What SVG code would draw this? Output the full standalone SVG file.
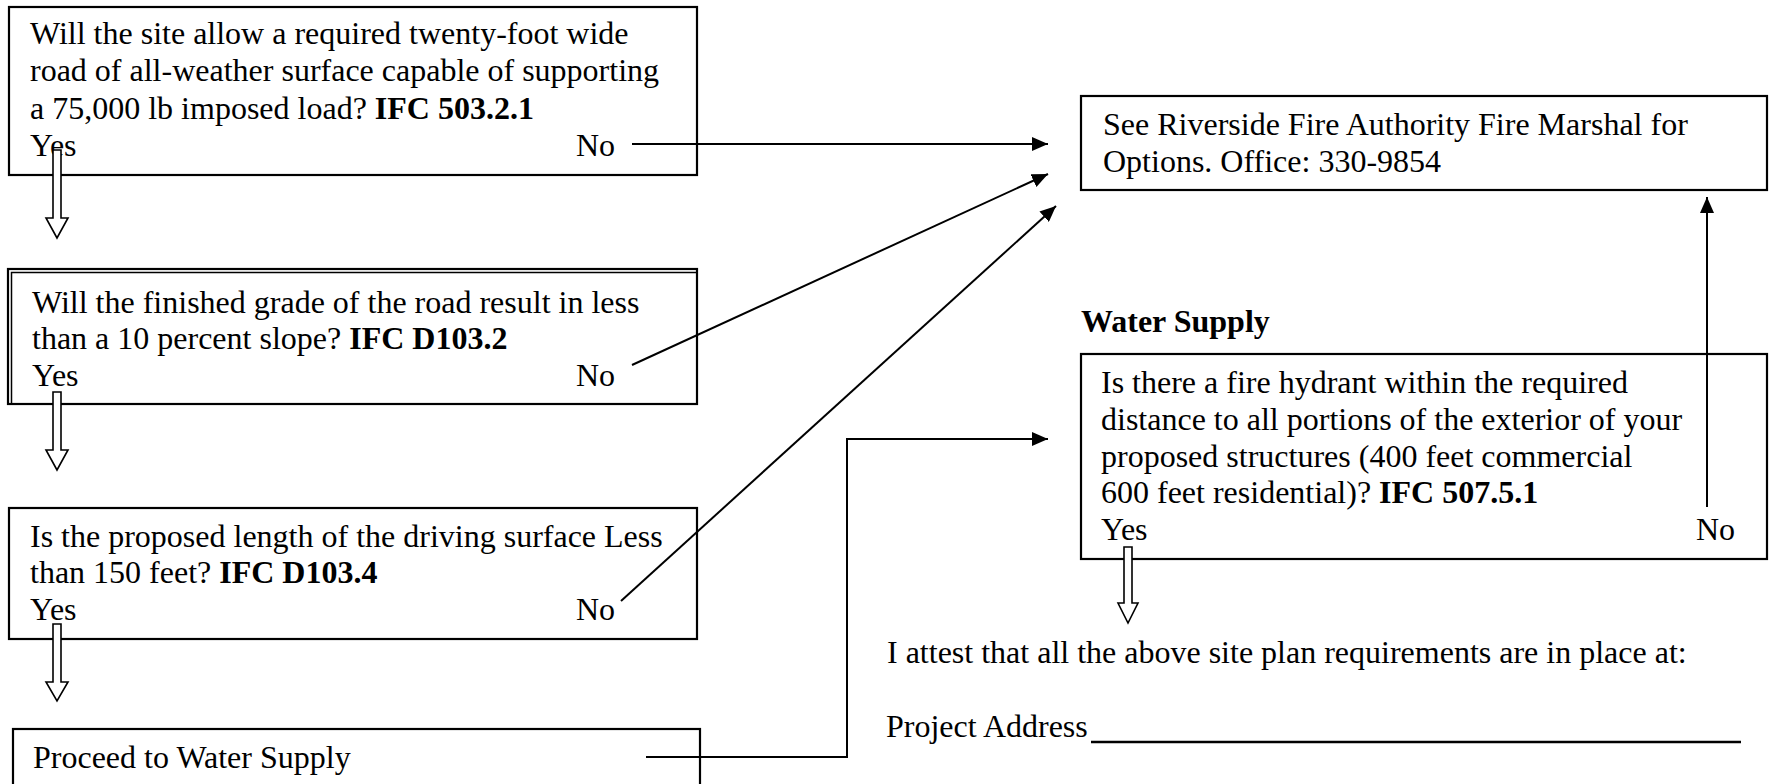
<svg xmlns="http://www.w3.org/2000/svg" width="1769" height="784" viewBox="0 0 1769 784">
<style>
text{font-family:"Liberation Serif","Times New Roman",serif;font-size:32px;fill:#000}
.b{font-weight:bold}
.box{fill:#fff;stroke:#000;stroke-width:2.2}
.con{fill:none;stroke:#000;stroke-width:2}
.hol{fill:#fff;stroke:#000;stroke-width:1.6}
</style>
<defs>
<marker id="ah" markerWidth="16" markerHeight="14" refX="16" refY="7" orient="auto" markerUnits="userSpaceOnUse"><path d="M0,0 L16,7 L0,14 z" fill="#000"/></marker>
</defs>
<rect width="1769" height="784" fill="#fff"/>
<g id="q1">
<rect class="box" x="9" y="7" width="688" height="168"/>
<text x="30" y="43.5">Will the site allow a required twenty-foot wide</text>
<text x="30" y="81">road of all-weather surface capable of supporting</text>
<text x="30" y="118.5">a 75,000 lb imposed load? <tspan class="b">IFC 503.2.1</tspan></text>
<text x="30" y="156">Yes</text>
<text x="576" y="156">No</text>
</g>
<g id="q2">
<rect class="box" x="8" y="269" width="689" height="135"/>
<path d="M11.5,404 V272.5 H697" fill="none" stroke="#000" stroke-width="1.5"/>
<text x="32" y="312.5">Will the finished grade of the road result in less</text>
<text x="32" y="349">than a 10 percent slope? <tspan class="b">IFC D103.2</tspan></text>
<text x="32" y="385.5">Yes</text>
<text x="576" y="385.5">No</text>
</g>
<g id="q3">
<rect class="box" x="9" y="508" width="688" height="131"/>
<text x="30" y="546.5">Is the proposed length of the driving surface Less</text>
<text x="30" y="583">than 150 feet? <tspan class="b">IFC D103.4</tspan></text>
<text x="30" y="620">Yes</text>
<text x="576" y="620">No</text>
</g>
<g id="proceed">
<rect class="box" x="13" y="729" width="687" height="80"/>
<text x="33" y="768">Proceed to Water Supply</text>
</g>
<g id="marshal">
<rect class="box" x="1081" y="96" width="686" height="94"/>
<text x="1103" y="135">See Riverside Fire Authority Fire Marshal for</text>
<text x="1103" y="172">Options. Office: 330-9854</text>
</g>
<g id="water">
<text class="b" x="1081" y="332">Water Supply</text>
<rect class="box" x="1081" y="354" width="686" height="205"/>
<text x="1101" y="393">Is there a fire hydrant within the required</text>
<text x="1101" y="430">distance to all portions of the exterior of your</text>
<text x="1101" y="467">proposed structures (400 feet commercial</text>
<text x="1101" y="503">600 feet residential)? <tspan class="b">IFC 507.5.1</tspan></text>
<text x="1101" y="540">Yes</text>
<text x="1696" y="540">No</text>
</g>
<g id="attest">
<text x="887" y="663">I attest that all the above site plan requirements are in place at:</text>
<text x="886" y="737">Project Address</text>
<line x1="1091" y1="742" x2="1741" y2="742" stroke="#000" stroke-width="2.5"/>
</g>
<g id="connectors">
<line class="con" x1="632" y1="144" x2="1048" y2="144" marker-end="url(#ah)"/>
<line class="con" x1="632" y1="365" x2="1048" y2="174" marker-end="url(#ah)"/>
<line class="con" x1="621" y1="601" x2="1056" y2="206" marker-end="url(#ah)"/>
<polyline class="con" points="646,757 847,757 847,439 1048,439" marker-end="url(#ah)"/>
<line class="con" x1="1707" y1="507" x2="1707" y2="197" marker-end="url(#ah)"/>
<path class="hol" d="M53,150 V218 H46 L57,238 L68,218 H61 V150 Z"/>
<path class="hol" d="M53,392 V450 H46 L57,470 L68,450 H61 V392 Z"/>
<path class="hol" d="M53,624 V682 H46 L57,701 L68,682 H61 V624 Z"/>
<path class="hol" d="M1124,547 V603 H1118 L1128,623 L1138,603 H1132 V547 Z"/>
</g>
</svg>
